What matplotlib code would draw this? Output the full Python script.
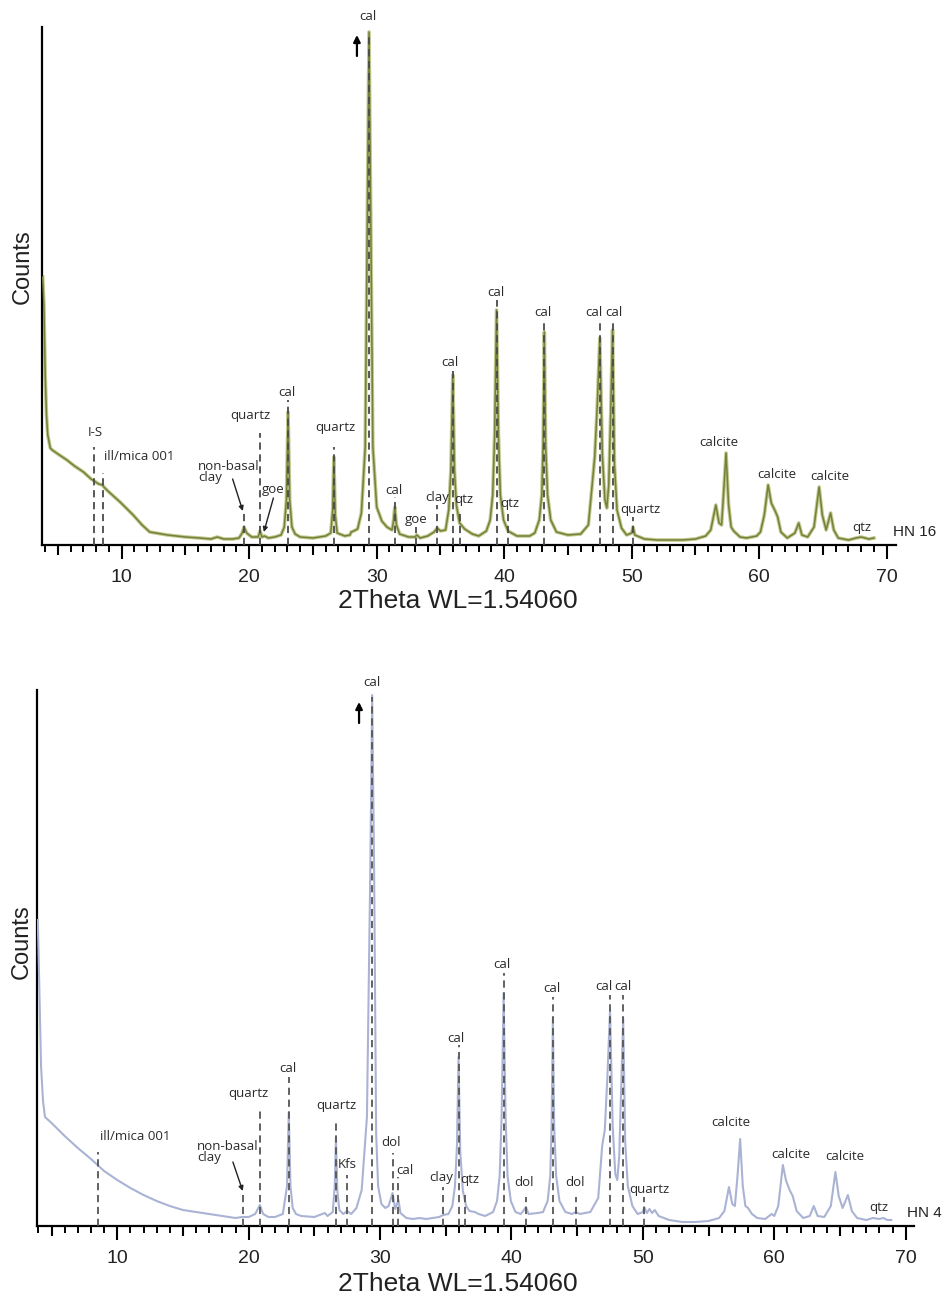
import matplotlib
matplotlib.use("Agg")
import matplotlib.pyplot as plt
from matplotlib.ticker import MultipleLocator, FixedLocator, NullFormatter

# ---------------- data (2theta, counts) ----------------
hn16_theta = [3.8, 3.9, 4.0, 4.1, 4.2, 4.4, 4.55, 5.0, 5.7, 6.3, 7.0, 7.6, 8.2, 8.5, 8.6, 9.0,
              9.87, 10.9, 11.6, 12.2, 13.6, 15.0, 16.1, 17.0, 17.5, 18.0, 18.7, 19.2, 19.45,
              19.6, 19.8, 20.2, 20.7, 20.85, 21.0, 21.2, 21.5, 22.0, 22.5, 22.75, 22.92, 23.05,
              23.18, 23.35, 23.6, 24.0, 25.0, 25.5, 26.0, 26.4, 26.55, 26.64, 26.75, 26.9, 27.5,
              27.9, 28.0, 28.2, 28.5, 28.8, 29.1, 29.25, 29.4, 29.55, 29.7, 30.0, 30.4, 30.8,
              31.2, 31.3, 31.42, 31.55, 31.8, 32.5, 33.0, 33.15, 33.4, 34.0, 34.5, 34.75, 35.0,
              35.4, 35.65, 35.82, 35.97, 36.1, 36.25, 36.5, 36.9, 37.5, 38.0, 38.6, 38.9, 39.1,
              39.25, 39.4, 39.55, 39.7, 39.95, 40.3, 41.0, 42.0, 42.4, 42.75, 42.95, 43.05,
              43.15, 43.25, 43.4, 43.65, 44.1, 45.0, 46.0, 46.6, 46.9, 47.1, 47.3, 47.5, 47.7,
              47.9, 48.05, 48.2, 48.35, 48.5, 48.65, 48.85, 49.2, 49.6, 50.0, 50.1, 50.25, 51.0,
              52.0, 53.0, 54.0, 55.0, 55.8, 56.2, 56.6, 56.85, 57.05, 57.2, 57.4, 57.6, 57.8,
              58.0, 58.5, 59.0, 59.8, 60.1, 60.4, 60.7, 60.95, 61.25, 61.45, 61.7, 62.2, 62.8,
              63.1, 63.35, 63.8, 64.3, 64.7, 64.95, 65.25, 65.6, 65.85, 66.2, 67.0, 67.6, 68.0,
              68.3, 68.6, 69.0]
hn16_counts = [268, 240, 170, 130, 110, 97, 95, 91, 85, 79, 73, 66, 61, 60, 58, 53,
               43, 30, 20, 13, 10, 8, 7, 6, 8, 6, 6, 7, 12,
               18, 12, 8, 8, 14, 8, 9, 7, 8, 10, 18, 45, 133,
               45, 18, 11, 8, 7, 8, 9, 12, 35, 88, 30, 12, 9,
               10, 13, 14, 16, 32, 98, 300, 513, 300, 98, 38, 24, 18,
               15, 22, 38, 20, 11, 8, 8, 10, 7, 9, 13, 17, 14,
               15, 35, 75, 170, 75, 40, 22, 16, 11, 9, 14, 25, 50,
               110, 235, 110, 50, 25, 14, 9, 9, 12, 25, 50, 100,
               213, 100, 50, 25, 13, 10, 11, 20, 60, 88, 140, 207, 90,
               45, 37, 60, 130, 215, 80, 35, 17, 10, 12, 18, 10, 6,
               5, 5, 5, 6, 9, 15, 40, 22, 20, 50, 92, 40, 18,
               14, 8, 7, 9, 13, 30, 60, 42, 34, 28, 13, 7, 12,
               22, 10, 8, 18, 58, 30, 15, 32, 15, 7, 5, 7, 8,
               7, 6, 7]

hn4_theta = [3.95, 4.0, 4.1, 4.2, 4.35, 4.5, 5.0, 6.0, 7.0, 8.0, 8.5, 9.0, 10.0, 11.0, 12.0,
             13.0, 14.0, 15.0, 16.0, 17.0, 18.0, 19.0, 19.5, 20.0, 20.5, 20.85, 21.1, 21.5,
             22.0, 22.6, 22.92, 23.05, 23.18, 23.35, 23.6, 24.0, 25.0, 25.8, 26.0, 26.4, 26.55,
             26.64, 26.75, 26.9, 27.2, 27.5, 27.8, 28.2, 28.6, 29.0, 29.25, 29.4, 29.55, 29.7,
             29.85, 30.1, 30.4, 30.65, 30.95, 31.15, 31.4, 31.55, 32.0, 32.5, 33.0, 33.5, 34.0,
             34.5, 34.8, 35.2, 35.5, 35.7, 35.85, 35.97, 36.1, 36.3, 36.55, 36.8, 37.2, 37.5,
             38.0, 38.6, 38.9, 39.1, 39.25, 39.4, 39.55, 39.7, 39.95, 40.3, 40.7, 40.95, 41.1,
             41.3, 42.0, 42.4, 42.75, 42.95, 43.05, 43.15, 43.25, 43.4, 43.65, 44.1, 44.6, 44.9,
             45.2, 46.0, 46.6, 46.9, 47.1, 47.3, 47.5, 47.7, 47.9, 48.05, 48.2, 48.35, 48.5,
             48.65, 48.85, 49.2, 49.6, 50.0, 50.1, 50.3, 50.5, 50.7, 50.9, 51.2, 52.0, 53.0,
             54.0, 55.0, 55.8, 56.2, 56.55, 56.8, 57.0, 57.2, 57.4, 57.6, 57.8, 58.0, 58.3,
             58.7, 59.3, 59.8, 60.0, 60.3, 60.65, 60.9, 61.2, 61.4, 61.7, 62.2, 62.7, 63.0,
             63.3, 63.8, 64.3, 64.65, 64.9, 65.2, 65.6, 65.9, 66.3, 67.0, 67.5, 68.0, 68.3,
             68.6, 68.9]
hn4_counts = [306, 280, 220, 160, 125, 109, 103, 90, 78, 67, 61, 55, 46, 38, 31,
              25, 20, 16, 14, 12, 10, 8, 9, 9, 12, 21, 12, 9,
              9, 12, 40, 114, 40, 18, 12, 10, 9, 13, 10, 14, 40,
              88, 35, 16, 12, 15, 12, 18, 36, 109, 350, 531, 350, 93,
              40, 22, 18, 20, 33, 17, 26, 13, 8, 7, 8, 7, 8,
              9, 11, 12, 20, 40, 80, 169, 75, 35, 20, 15, 14, 12,
              10, 14, 25, 50, 110, 233, 110, 50, 25, 14, 12, 16, 19,
              12, 13, 14, 25, 50, 100, 208, 100, 50, 25, 14, 12, 14,
              12, 14, 28, 80, 96, 150, 216, 100, 52, 46, 70, 140, 208,
              85, 40, 20, 12, 14, 19, 13, 17, 13, 16, 10, 6, 4,
              4, 5, 8, 15, 39, 22, 20, 50, 87, 40, 20, 18, 12,
              8, 7, 12, 10, 20, 61, 45, 35, 30, 15, 8, 10, 20,
              10, 9, 20, 54, 30, 18, 31, 15, 8, 6, 8, 7, 8,
              6, 6]

# reference (phase) lines: position and top of dashed line
hn16_ref_theta = [7.83, 8.56, 19.6, 20.85, 23.05, 26.64, 29.4, 31.42, 33.1, 34.75, 35.97, 36.5,
                  39.4, 40.3, 43.15, 47.5, 48.5, 50.1]
hn16_ref_top = [98, 72, 32, 112, 145, 98, 510, 48, 18, 40, 175, 32, 245, 32, 223, 223, 223, 28]

hn4_ref_theta = [8.56, 19.6, 20.85, 23.05, 26.64, 27.5, 29.4, 30.95, 31.4, 34.8, 35.97, 36.5,
                 39.4, 41.1, 43.15, 44.9, 47.5, 48.5, 50.1]
hn4_ref_top = [74, 33, 116, 149, 103, 51, 529, 73, 49, 39, 181, 31, 253, 29, 229, 29, 231, 231, 29]

# phase labels
hn16_label_text = ["I-S", "quartz", "goe", "cal", "quartz", "cal", "cal", "goe", "clay", "cal",
                   "qtz", "cal", "qtz", "cal", "cal", "cal", "quartz", "calcite", "calcite",
                   "calcite", "qtz"]
hn16_label_x = [7.91, 20.06, 21.85, 22.97, 26.73, 29.3, 31.36, 33.08, 34.73, 35.75,
                36.8, 39.35, 40.45, 43.0, 47.05, 48.6, 50.65, 56.85, 61.4, 65.5, 68.06]
hn16_label_y = [112, 129, 55, 153, 117, 528, 55, 26, 48, 182,
                45, 253, 42, 232, 233, 233, 35, 102, 70, 69, 18]

hn4_label_text = ["quartz", "cal", "quartz", "Kfs", "cal", "dol", "cal", "clay", "cal", "qtz",
                  "cal", "dol", "cal", "dol", "cal", "cal", "quartz", "calcite", "calcite",
                  "calcite", "qtz"]
hn4_label_x = [20.0, 23.0, 26.7, 27.5, 29.35, 30.85, 31.9, 34.64, 35.8, 36.85,
               39.25, 40.95, 43.06, 44.8, 47.05, 48.5, 50.5, 56.7, 61.27, 65.38, 67.96]
hn4_label_y = [133, 158, 121, 61, 543, 84, 56, 48, 188, 46,
               261, 43, 238, 43, 239, 239, 36, 104, 72, 70, 18]

xtick_values = [10, 20, 30, 40, 50, 60, 70]

# ---------------- styling ----------------
ANN_FONT = ["Open Sans", "DejaVu Sans"]
AX_FONT = ["Liberation Sans", "DejaVu Sans"]
ANN_SIZE = 9.5
ANN_COLOR = "#2a2a2a"

fig = plt.figure(figsize=(9.44, 13.04), dpi=100)
W, H = 944.0, 1304.0


def setup_axis(ax, xmin, xmax, ymax):
    ax.set_xlim(xmin, xmax)
    ax.set_ylim(0, ymax)
    for s in ("top", "right"):
        ax.spines[s].set_visible(False)
    ax.spines["left"].set_linewidth(1.6)
    ax.spines["bottom"].set_linewidth(1.6)
    ax.set_yticks([])
    ax.xaxis.set_major_locator(FixedLocator(xtick_values))
    ax.xaxis.set_minor_locator(MultipleLocator(1))
    ax.tick_params(axis="x", which="major", direction="out", length=10, width=1.5, pad=7,
                   labelsize=14, labelcolor="#222222")
    ax.tick_params(axis="x", which="minor", direction="out", length=5, width=1.4)
    for lab in ax.get_xticklabels():
        lab.set_family(AX_FONT)
    sec = ax.secondary_xaxis("bottom")
    sec.spines["bottom"].set_visible(False)
    sec.xaxis.set_major_locator(FixedLocator([5, 15, 25, 35, 45, 55, 65]))
    sec.xaxis.set_major_formatter(NullFormatter())
    sec.tick_params(axis="x", which="major", direction="out", length=7, width=1.5)
    sec.xaxis.set_minor_locator(FixedLocator([]))
    ax.patch.set_alpha(0)


def draw_refs(ax, xs, tops, color):
    for x, t in zip(xs, tops):
        ax.plot([x, x], [0, t], color=color, lw=1.3, dashes=(4, 2.6), zorder=4,
                solid_capstyle="butt")


def draw_labels(ax, texts, xs, ys):
    for t, x, y in zip(texts, xs, ys):
        ax.text(x, y, t, ha="center", va="center", fontsize=ANN_SIZE, family=ANN_FONT,
                color=ANN_COLOR, zorder=6, clip_on=False)


# ---------------- top panel (HN 16) ----------------
ax1 = fig.add_axes([42 / W, 1 - 545 / H, (896 - 42) / W, (545 - 27) / H])
setup_axis(ax1, 3.75, 70.73, 518)
ax1.plot(hn16_theta, hn16_counts, color="#c3c98f", lw=2.6, zorder=2, solid_joinstyle="round")
ax1.plot(hn16_theta, hn16_counts, color="#75803a", lw=1.1, zorder=3, solid_joinstyle="round")
draw_refs(ax1, hn16_ref_theta, hn16_ref_top, "#4a4a4a")
draw_labels(ax1, hn16_label_text, hn16_label_x, hn16_label_y)
ax1.text(8.61, 88, "ill/mica 001", ha="left", va="center", fontsize=ANN_SIZE,
         family=ANN_FONT, color=ANN_COLOR)
ax1.text(16.0, 73, "non-basal\nclay", ha="left", va="center", fontsize=ANN_SIZE,
         family=ANN_FONT, color=ANN_COLOR, linespacing=0.85)
ax1.annotate("", xy=(19.5, 34), xytext=(18.7, 66),
             arrowprops=dict(arrowstyle="-|>", lw=1.0, color="#222222", mutation_scale=7,
                             shrinkA=0, shrinkB=0))
ax1.annotate("", xy=(21.15, 13), xytext=(21.9, 47),
             arrowprops=dict(arrowstyle="-|>", lw=1.0, color="#222222", mutation_scale=7,
                             shrinkA=0, shrinkB=0))
ax1.annotate("", xy=(28.45, 510), xytext=(28.45, 489),
             arrowprops=dict(arrowstyle="-|>", lw=1.6, color="black", mutation_scale=10,
                             shrinkA=0, shrinkB=0), annotation_clip=False)
ax1.text(70.47, 13, "HN 16", ha="left", va="center", fontsize=11, family=AX_FONT,
         color="#222222", clip_on=False)

# ---------------- bottom panel (HN 4) ----------------
ax2 = fig.add_axes([36.7 / W, 1 - 1226 / H, (914 - 36.7) / W, (1226 - 690) / H])
setup_axis(ax2, 3.87, 70.63, 536)
ax2.plot(hn4_theta, hn4_counts, color="#aab3d4", lw=1.5, zorder=3, solid_joinstyle="round")
draw_refs(ax2, hn4_ref_theta, hn4_ref_top, "#555555")
draw_labels(ax2, hn4_label_text, hn4_label_x, hn4_label_y)
ax2.text(8.68, 90, "ill/mica 001", ha="left", va="center", fontsize=ANN_SIZE,
         family=ANN_FONT, color=ANN_COLOR)
ax2.text(16.05, 74, "non-basal\nclay", ha="left", va="center", fontsize=ANN_SIZE,
         family=ANN_FONT, color=ANN_COLOR, linespacing=0.85)
ax2.annotate("", xy=(19.55, 35), xytext=(18.8, 64),
             arrowprops=dict(arrowstyle="-|>", lw=1.0, color="#222222", mutation_scale=7,
                             shrinkA=0, shrinkB=0))
ax2.annotate("", xy=(28.4, 524), xytext=(28.4, 503),
             arrowprops=dict(arrowstyle="-|>", lw=1.6, color="black", mutation_scale=10,
                             shrinkA=0, shrinkB=0), annotation_clip=False)
ax2.text(70.1, 13, "HN 4", ha="left", va="center", fontsize=11, family=AX_FONT,
         color="#222222", clip_on=False)

# ---------------- axis titles ----------------
fig.text(458 / W, 1 - 601 / H, "2Theta WL=1.54060", ha="center", va="center", fontsize=19,
         family=AX_FONT, color="#222222")
fig.text(458 / W, 1 - 1284 / H, "2Theta WL=1.54060", ha="center", va="center", fontsize=19,
         family=AX_FONT, color="#222222")
fig.text(23 / W, 1 - 267 / H, "Counts", ha="center", va="center", rotation=90, fontsize=17,
         family=AX_FONT, color="#222222")
fig.text(22 / W, 1 - 942 / H, "Counts", ha="center", va="center", rotation=90, fontsize=17,
         family=AX_FONT, color="#222222")

fig.savefig("out.png", dpi=100, facecolor="white")
